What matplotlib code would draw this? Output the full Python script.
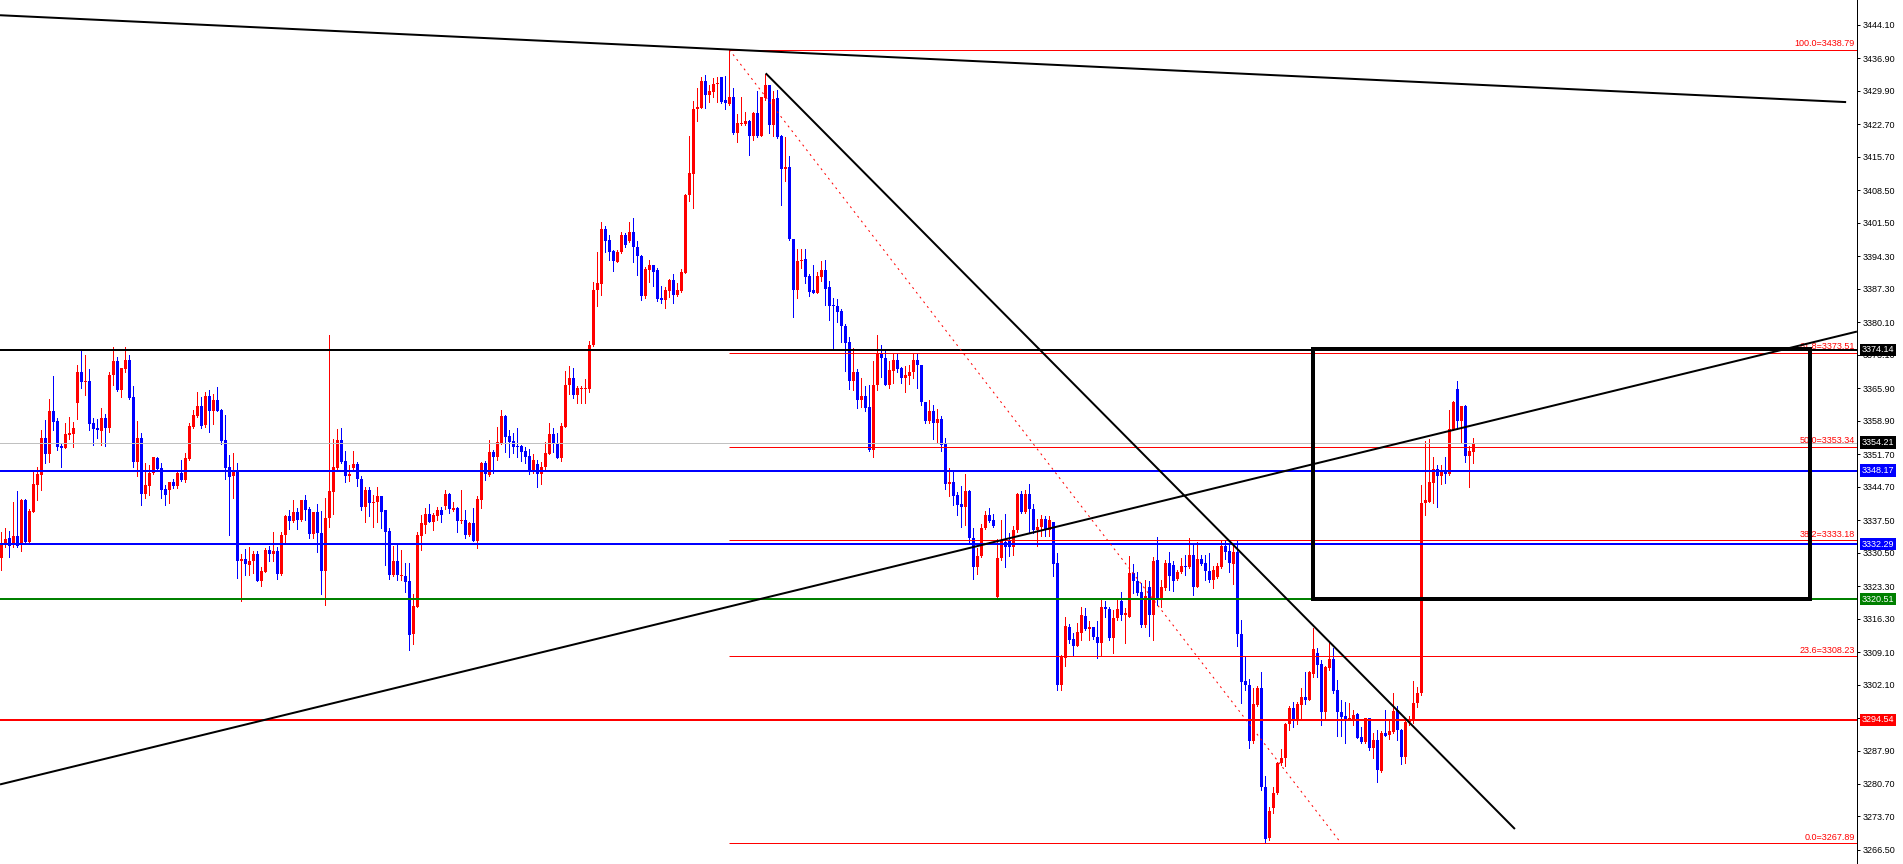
import matplotlib
matplotlib.use("Agg")
import matplotlib.pyplot as plt
import numpy as np

plt.rcParams['font.family'] = ['Liberation Sans', 'DejaVu Sans']

# ---------------- data ----------------
opens = [
3329.3, 3332.4, 3333.6, 3332.2, 3334.1, 3332.5, 3341.9, 3332.9, 3339.3, 3345.1,
3347.3, 3355.2, 3351.8, 3361.0, 3358.9, 3353.5, 3353.1, 3355.8, 3356.1, 3362.8,
3369.4, 3367.3, 3367.5, 3358.4, 3357.4, 3356.6, 3359.5, 3357.4, 3368.8, 3371.8,
3365.6, 3370.1, 3372.0, 3364.0, 3350.1, 3355.2, 3343.1, 3344.9, 3347.6, 3350.9,
3348.7, 3344.1, 3344.0, 3345.7, 3344.9, 3347.6, 3346.2, 3350.7, 3357.6, 3360.0,
3362.1, 3357.9, 3364.2, 3360.9, 3363.4, 3361.2, 3354.8, 3348.9, 3346.9, 3348.1,
3328.6, 3329.2, 3327.9, 3328.6, 3330.2, 3324.5, 3326.4, 3331.1, 3330.2, 3330.9,
3325.9, 3334.2, 3338.3, 3337.3, 3339.3, 3337.6, 3341.9, 3339.9, 3334.5, 3339.3,
3334.7, 3326.6, 3337.9, 3343.6, 3348.7, 3354.8, 3350.2, 3346.9, 3348.7, 3349.6,
3346.4, 3340.4, 3344.0, 3341.1, 3341.3, 3342.6, 3339.6, 3335.2, 3325.6, 3328.7,
3325.4, 3325.5, 3324.3, 3313.0, 3318.9, 3334.0, 3336.5, 3338.8, 3337.2, 3338.3,
3339.7, 3340.6, 3343.2, 3339.7, 3340.1, 3337.4, 3337.6, 3334.3, 3336.8, 3333.0,
3341.9, 3349.8, 3347.2, 3352.1, 3351.2, 3354.1, 3360.0, 3355.6, 3354.6, 3353.5,
3353.5, 3352.3, 3351.3, 3348.2, 3349.6, 3347.5, 3348.9, 3351.8, 3356.0, 3354.2,
3350.8, 3357.6, 3366.5, 3368.0, 3364.5, 3365.8, 3365.8, 3365.8, 3375.2, 3387.1,
3388.4, 3400.2, 3397.8, 3395.5, 3393.0, 3395.3, 3398.9, 3397.5, 3399.6, 3396.3,
3394.4, 3385.8, 3391.4, 3392.5, 3391.4, 3385.4, 3385.0, 3386.9, 3389.1, 3385.9,
3386.9, 3390.8, 3407.4, 3412.0, 3426.0, 3426.2, 3432.1, 3429.1, 3429.6, 3431.4,
3432.8, 3428.0, 3427.1, 3428.7, 3420.9, 3422.8, 3422.8, 3423.5, 3420.2, 3425.1,
3420.3, 3428.3, 3431.1, 3422.6, 3428.3, 3420.1, 3413.1, 3413.6, 3398.0, 3387.1,
3393.2, 3393.7, 3390.1, 3387.0, 3386.5, 3389.9, 3391.4, 3387.6, 3383.8, 3383.6,
3382.6, 3379.4, 3375.8, 3367.5, 3369.5, 3363.4, 3364.2, 3361.9, 3352.6, 3366.6,
3373.4, 3372.5, 3366.6, 3369.7, 3372.0, 3370.2, 3368.0, 3368.6, 3369.4, 3372.0,
3370.9, 3363.0, 3358.9, 3360.9, 3358.5, 3359.2, 3353.9, 3345.2, 3345.7, 3342.9,
3340.9, 3340.4, 3343.8, 3333.6, 3327.5, 3329.7, 3335.8, 3338.6, 3337.5, 3321.0,
3329.3, 3332.9, 3333.1, 3331.8, 3335.3, 3343.2, 3339.3, 3343.2, 3340.0, 3335.4,
3336.1, 3337.8, 3335.4, 3337.0, 3328.2, 3302.0, 3307.8, 3314.6, 3311.9, 3310.4,
3313.3, 3316.9, 3314.1, 3314.4, 3312.4, 3311.1, 3318.7, 3318.4, 3312.2, 3316.4,
3320.0, 3317.0, 3316.7, 3326.2, 3324.3, 3322.1, 3315.0, 3323.2, 3317.0, 3328.9,
3320.3, 3322.8, 3328.2, 3327.9, 3324.9, 3326.4, 3327.7, 3327.4, 3330.0, 3323.2,
3329.2, 3328.2, 3326.6, 3324.6, 3325.3, 3327.4, 3331.9, 3330.9, 3328.1, 3330.7,
3313.0, 3302.9, 3302.0, 3290.0, 3297.7, 3301.3, 3280.1, 3269.0, 3275.5, 3278.7,
3285.2, 3286.3, 3293.6, 3297.1, 3294.6, 3297.7, 3299.4, 3298.8, 3304.4, 3308.8,
3306.5, 3296.3, 3305.6, 3307.6, 3300.9, 3296.2, 3295.4, 3294.6, 3294.5, 3295.8,
3290.9, 3289.8, 3294.9, 3288.4, 3290.2, 3283.4, 3291.6, 3291.3, 3291.8, 3296.6,
3292.3, 3286.5, 3294.1, 3294.6, 3298.2, 3300.2, 3341.1, 3341.5, 3345.6, 3348.5,
3347.1, 3348.3, 3347.5, 3356.9, 3365.7, 3358.9, 3362.1, 3351.4, 3352.1,
]

highs = [
3335.0, 3335.8, 3335.2, 3341.4, 3343.8, 3342.1, 3342.0, 3339.8, 3347.9, 3349.0,
3356.9, 3359.1, 3363.5, 3368.5, 3359.4, 3354.1, 3358.4, 3359.7, 3358.7, 3370.9,
3373.9, 3373.1, 3370.0, 3359.5, 3359.3, 3361.6, 3360.3, 3369.5, 3374.7, 3372.6,
3370.3, 3374.7, 3373.1, 3366.4, 3358.9, 3356.2, 3349.7, 3349.4, 3351.2, 3351.1,
3349.7, 3345.1, 3345.7, 3346.3, 3348.3, 3350.5, 3351.9, 3358.5, 3361.2, 3365.0,
3364.1, 3365.0, 3365.5, 3364.7, 3366.1, 3361.4, 3360.2, 3351.5, 3351.9, 3349.7,
3330.2, 3331.2, 3331.7, 3330.9, 3330.9, 3327.4, 3331.5, 3332.0, 3335.0, 3331.8,
3335.0, 3338.6, 3339.7, 3341.9, 3340.1, 3341.9, 3342.9, 3340.4, 3339.3, 3341.0,
3339.4, 3342.2, 3377.4, 3355.0, 3357.1, 3357.4, 3352.4, 3349.4, 3352.3, 3350.1,
3346.9, 3344.7, 3344.6, 3342.9, 3344.7, 3342.8, 3339.7, 3335.8, 3332.0, 3332.2,
3331.1, 3328.2, 3328.2, 3321.6, 3334.9, 3338.6, 3340.1, 3341.0, 3339.0, 3340.4,
3340.4, 3343.9, 3343.3, 3341.5, 3340.4, 3344.0, 3339.7, 3337.0, 3340.1, 3342.6,
3350.1, 3350.3, 3354.8, 3352.6, 3357.5, 3361.2, 3360.2, 3356.9, 3356.2, 3357.3,
3353.7, 3353.2, 3352.8, 3351.7, 3350.5, 3350.1, 3354.4, 3358.5, 3357.3, 3356.2,
3358.5, 3369.7, 3370.7, 3370.2, 3366.3, 3366.4, 3367.9, 3376.0, 3388.7, 3395.2,
3401.6, 3400.9, 3398.9, 3395.7, 3395.7, 3399.5, 3399.4, 3401.6, 3402.6, 3397.6,
3394.6, 3392.1, 3393.5, 3392.5, 3391.7, 3387.9, 3387.7, 3389.4, 3390.5, 3388.5,
3391.5, 3407.7, 3420.1, 3427.8, 3430.6, 3432.8, 3433.4, 3431.1, 3432.6, 3432.8,
3433.0, 3433.2, 3438.79, 3430.5, 3425.0, 3428.7, 3425.3, 3423.7, 3425.3, 3429.8,
3428.7, 3433.6, 3431.1, 3429.8, 3430.1, 3420.4, 3419.9, 3415.9, 3398.0, 3395.9,
3395.9, 3395.9, 3390.4, 3392.4, 3391.0, 3393.2, 3393.4, 3389.0, 3385.3, 3385.1,
3382.9, 3379.7, 3377.0, 3374.5, 3370.1, 3368.2, 3366.4, 3366.6, 3371.8, 3377.4,
3375.2, 3374.1, 3371.8, 3373.4, 3373.3, 3370.4, 3370.6, 3370.9, 3373.4, 3373.4,
3370.9, 3363.0, 3363.4, 3362.2, 3361.4, 3359.9, 3355.1, 3348.7, 3348.2, 3343.6,
3344.9, 3347.4, 3344.0, 3335.8, 3331.5, 3336.7, 3339.5, 3340.2, 3338.8, 3333.5,
3337.5, 3338.8, 3334.7, 3336.3, 3343.3, 3343.8, 3344.0, 3345.2, 3340.9, 3337.8,
3338.6, 3338.3, 3338.4, 3337.2, 3330.5, 3308.5, 3316.7, 3315.2, 3313.2, 3315.3,
3318.7, 3318.5, 3315.7, 3314.6, 3315.7, 3320.3, 3320.0, 3318.9, 3318.2, 3320.3,
3322.1, 3318.5, 3329.7, 3328.1, 3326.4, 3323.9, 3324.6, 3324.3, 3329.5, 3333.8,
3324.6, 3329.0, 3330.7, 3328.6, 3326.8, 3329.3, 3330.0, 3333.6, 3332.5, 3332.7,
3330.0, 3330.0, 3330.4, 3327.6, 3328.2, 3333.2, 3333.2, 3332.2, 3332.2, 3333.2,
3316.0, 3308.1, 3303.2, 3301.3, 3301.7, 3304.8, 3282.4, 3275.8, 3280.0, 3285.5,
3288.2, 3293.9, 3297.4, 3298.4, 3298.3, 3301.3, 3304.7, 3305.0, 3314.2, 3309.9,
3307.4, 3306.0, 3311.0, 3309.9, 3303.1, 3298.8, 3298.4, 3298.1, 3296.6, 3295.9,
3293.0, 3294.9, 3295.0, 3291.6, 3292.3, 3292.0, 3296.6, 3294.5, 3300.2, 3297.4,
3292.5, 3294.9, 3295.3, 3302.9, 3301.5, 3345.1, 3354.6, 3355.0, 3351.2, 3349.4,
3349.4, 3351.2, 3361.2, 3363.2, 3367.5, 3362.1, 3362.3, 3353.5, 3355.1,
]

lows = [
3326.8, 3331.8, 3329.5, 3331.8, 3331.8, 3330.9, 3332.4, 3332.5, 3339.3, 3341.9,
3343.9, 3349.9, 3350.1, 3356.8, 3352.5, 3349.0, 3353.1, 3354.9, 3353.3, 3359.3,
3366.0, 3364.5, 3356.8, 3353.7, 3355.2, 3353.7, 3353.5, 3356.4, 3366.5, 3365.2,
3364.0, 3369.3, 3363.5, 3348.9, 3346.9, 3340.8, 3342.3, 3342.9, 3347.4, 3348.3,
3342.2, 3340.8, 3341.1, 3344.5, 3344.5, 3346.0, 3345.7, 3350.5, 3357.3, 3359.8,
3357.4, 3357.5, 3356.4, 3358.2, 3360.9, 3353.9, 3346.3, 3334.2, 3342.2, 3325.1,
3320.0, 3325.6, 3325.6, 3326.2, 3324.3, 3323.4, 3326.3, 3328.6, 3328.6, 3324.8,
3325.6, 3332.7, 3335.5, 3337.2, 3335.6, 3337.4, 3337.6, 3333.6, 3333.6, 3330.7,
3321.5, 3319.2, 3336.1, 3338.9, 3348.5, 3349.9, 3345.7, 3345.9, 3348.2, 3344.9,
3339.6, 3337.1, 3338.3, 3336.1, 3337.1, 3335.8, 3327.9, 3324.8, 3325.4, 3324.6,
3324.6, 3322.1, 3309.6, 3310.9, 3318.7, 3331.1, 3334.7, 3337.1, 3335.4, 3337.6,
3337.0, 3339.9, 3339.1, 3339.5, 3335.0, 3336.8, 3333.7, 3334.1, 3333.0, 3331.6,
3340.2, 3346.2, 3347.1, 3347.6, 3350.5, 3353.9, 3352.1, 3351.0, 3351.9, 3351.0,
3350.3, 3349.8, 3347.4, 3347.6, 3344.7, 3345.2, 3348.5, 3351.8, 3352.1, 3350.8,
3350.3, 3357.6, 3364.7, 3363.7, 3362.7, 3362.7, 3362.7, 3365.0, 3374.9, 3383.5,
3386.0, 3395.3, 3393.5, 3391.2, 3393.0, 3395.0, 3396.4, 3397.3, 3393.0, 3390.3,
3384.9, 3385.3, 3388.7, 3387.8, 3384.6, 3384.3, 3383.1, 3385.6, 3384.3, 3385.8,
3386.7, 3390.8, 3406.3, 3404.8, 3423.5, 3426.2, 3426.2, 3427.5, 3428.6, 3427.6,
3427.3, 3426.0, 3426.9, 3420.7, 3419.0, 3422.6, 3422.6, 3416.1, 3419.4, 3419.9,
3420.1, 3428.0, 3420.8, 3420.2, 3419.7, 3405.4, 3410.5, 3397.8, 3381.3, 3385.4,
3391.7, 3388.5, 3385.8, 3386.3, 3386.3, 3388.9, 3383.8, 3380.5, 3374.1, 3380.2,
3375.9, 3369.6, 3365.8, 3365.5, 3361.7, 3361.8, 3361.1, 3352.4, 3351.2, 3365.5,
3368.4, 3366.6, 3366.0, 3367.0, 3369.3, 3367.0, 3365.0, 3366.8, 3368.2, 3366.0,
3362.2, 3358.5, 3358.5, 3355.0, 3354.4, 3352.4, 3344.2, 3342.8, 3340.8, 3338.6,
3336.1, 3336.5, 3332.9, 3324.8, 3325.9, 3329.5, 3335.5, 3337.2, 3336.0, 3320.7,
3329.0, 3327.5, 3329.7, 3329.9, 3335.0, 3339.0, 3339.1, 3334.7, 3334.7, 3332.0,
3334.1, 3334.0, 3334.0, 3325.4, 3301.0, 3301.0, 3306.0, 3311.1, 3308.5, 3310.3,
3311.7, 3313.9, 3311.7, 3311.9, 3307.8, 3308.3, 3316.7, 3311.7, 3308.8, 3316.0,
3315.9, 3311.0, 3316.6, 3321.8, 3321.4, 3314.6, 3314.6, 3312.6, 3311.7, 3319.3,
3318.9, 3322.5, 3322.5, 3322.3, 3324.6, 3326.2, 3325.7, 3327.2, 3321.4, 3323.2,
3327.9, 3324.6, 3324.1, 3322.8, 3325.0, 3327.1, 3329.2, 3326.4, 3323.7, 3310.3,
3298.1, 3301.0, 3288.4, 3289.5, 3297.4, 3279.4, 3267.89, 3268.7, 3274.4, 3278.6,
3284.8, 3284.6, 3292.3, 3293.0, 3293.6, 3294.5, 3297.9, 3298.7, 3303.8, 3303.8,
3293.4, 3294.9, 3305.3, 3300.2, 3291.1, 3291.0, 3289.5, 3294.5, 3293.4, 3290.5,
3289.5, 3289.5, 3288.0, 3286.2, 3281.2, 3283.2, 3291.0, 3290.4, 3291.6, 3290.2,
3284.9, 3285.2, 3293.5, 3293.9, 3297.2, 3299.9, 3338.5, 3341.4, 3341.1, 3340.4,
3345.3, 3345.4, 3347.2, 3356.8, 3357.1, 3354.4, 3350.1, 3344.7, 3349.9,
]

closes = [
3332.5, 3333.4, 3331.9, 3334.1, 3331.9, 3341.9, 3332.7, 3339.5, 3345.3, 3347.5,
3355.2, 3351.8, 3361.0, 3358.7, 3353.3, 3353.1, 3356.1, 3356.3, 3357.4, 3369.4,
3367.3, 3367.5, 3358.3, 3357.1, 3356.8, 3359.5, 3357.4, 3368.8, 3371.8, 3365.5,
3370.3, 3372.0, 3363.7, 3350.1, 3355.2, 3343.1, 3345.1, 3347.7, 3351.0, 3348.5,
3344.0, 3343.0, 3345.7, 3344.9, 3347.6, 3346.2, 3350.8, 3357.8, 3360.2, 3362.1,
3357.8, 3364.2, 3360.9, 3363.4, 3361.1, 3354.6, 3348.8, 3346.7, 3347.9, 3328.6,
3329.2, 3328.0, 3328.7, 3330.2, 3324.5, 3326.6, 3331.1, 3330.2, 3330.9, 3326.0,
3334.3, 3338.3, 3337.3, 3339.3, 3337.6, 3341.9, 3339.7, 3334.5, 3339.3, 3334.7,
3326.6, 3337.9, 3343.8, 3348.9, 3354.8, 3350.1, 3346.9, 3347.5, 3349.6, 3346.3,
3340.4, 3344.0, 3341.1, 3341.4, 3342.6, 3339.3, 3335.0, 3325.6, 3328.7, 3325.6,
3325.6, 3324.1, 3312.8, 3319.0, 3334.2, 3336.8, 3338.8, 3337.2, 3338.5, 3339.7,
3338.6, 3343.2, 3339.9, 3340.1, 3337.4, 3337.6, 3334.3, 3336.8, 3333.0, 3342.1,
3349.8, 3347.5, 3352.1, 3351.2, 3354.3, 3360.0, 3355.3, 3354.3, 3353.3, 3353.3,
3352.1, 3351.2, 3348.2, 3350.5, 3347.5, 3349.0, 3351.9, 3356.0, 3354.1, 3350.8,
3357.8, 3366.6, 3368.0, 3364.5, 3365.9, 3365.9, 3365.9, 3375.2, 3387.1, 3388.5,
3400.2, 3397.7, 3395.3, 3393.2, 3395.3, 3398.9, 3396.8, 3399.6, 3396.2, 3394.3,
3385.8, 3391.6, 3392.5, 3391.0, 3385.2, 3385.0, 3387.1, 3389.1, 3385.9, 3387.1,
3391.0, 3407.5, 3412.2, 3426.0, 3426.5, 3432.1, 3429.1, 3429.8, 3431.4, 3431.7,
3427.6, 3427.3, 3428.7, 3420.9, 3423.1, 3423.1, 3423.5, 3420.2, 3425.1, 3420.3,
3428.6, 3431.2, 3422.6, 3428.1, 3419.9, 3413.1, 3413.6, 3398.0, 3387.1, 3393.3,
3393.5, 3389.9, 3386.7, 3386.5, 3390.1, 3391.4, 3387.2, 3383.6, 3383.5, 3382.3,
3379.2, 3375.6, 3367.5, 3369.5, 3363.4, 3364.2, 3361.6, 3352.5, 3366.6, 3373.4,
3372.3, 3366.6, 3369.8, 3372.0, 3370.1, 3368.2, 3368.8, 3369.5, 3372.0, 3370.8,
3362.9, 3358.9, 3360.9, 3358.5, 3359.2, 3353.7, 3345.2, 3345.7, 3342.8, 3340.8,
3340.4, 3343.8, 3333.6, 3327.5, 3329.7, 3335.9, 3338.6, 3337.4, 3336.3, 3329.3,
3333.1, 3331.8, 3331.8, 3335.4, 3343.2, 3339.2, 3343.2, 3339.8, 3335.4, 3336.1,
3337.8, 3335.4, 3337.5, 3328.1, 3302.0, 3308.1, 3314.8, 3311.7, 3310.4, 3313.4,
3317.1, 3314.1, 3314.6, 3312.4, 3311.1, 3318.9, 3318.4, 3312.2, 3316.4, 3318.4,
3317.0, 3317.5, 3326.1, 3324.3, 3321.8, 3315.0, 3321.1, 3317.0, 3328.7, 3320.3,
3323.2, 3328.2, 3325.4, 3324.3, 3326.4, 3327.7, 3327.4, 3330.0, 3323.2, 3329.2,
3328.1, 3326.6, 3324.6, 3326.8, 3327.6, 3331.9, 3330.7, 3328.2, 3330.7, 3312.9,
3302.7, 3301.9, 3290.0, 3297.9, 3301.3, 3280.0, 3268.8, 3274.8, 3278.7, 3285.2,
3286.3, 3293.6, 3297.0, 3294.6, 3297.9, 3299.4, 3298.8, 3304.7, 3309.8, 3306.3,
3296.3, 3305.8, 3307.6, 3300.7, 3296.1, 3295.2, 3294.6, 3294.8, 3295.6, 3290.7,
3289.7, 3294.9, 3288.4, 3290.2, 3283.7, 3291.6, 3291.1, 3292.0, 3296.4, 3292.3,
3286.5, 3294.1, 3294.6, 3298.2, 3300.2, 3341.1, 3341.9, 3345.8, 3348.5, 3347.1,
3348.1, 3347.4, 3357.1, 3363.0, 3358.9, 3362.1, 3351.4, 3352.3, 3354.21,
]

# horizontal price lines and their right-axis labels
level_prices = [3374.14, 3354.21, 3348.17, 3332.29, 3320.51, 3294.54]
level_colors = ['#000000', '#C0C0C0', '#0000FF', '#0000FF', '#008000', '#FF0000']
level_widths = [2, 1, 2, 2, 2, 2]          # pixels
label_box_colors = ['#000000', '#000000', '#0000FF', '#0000FF', '#008000', '#FF0000']

# Fibonacci retracement
fib_ratios = ['100.0', '61.8', '50.0', '38.2', '23.6', '0.0']
fib_prices = [3438.79, 3373.51, 3353.34, 3333.18, 3308.23, 3267.89]
fib_anchor_bars = [182, 335]
fib_anchor_prices = [3438.79, 3267.89]

# trend lines: (bar0, price0, bar1, price1)
trend_long = [-0.33, 3446.2, 461.2, 3427.5]
trend_down = [191.1, 3433.7, 378.4, 3271.0]
trend_up = [-0.33, 3280.6, 463.9, 3378.1]

# rectangle: bars and prices
rect_bars = [327.9, 452.2]
rect_prices = [3320.5, 3374.3]

# right axis tick labels
tick_labels = ['3444.10', '3436.90', '3429.90', '3422.70', '3415.70', '3408.50',
               '3401.50', '3394.30', '3387.30', '3380.10', '3373.10', '3365.90',
               '3358.90', '3351.70', '3344.70', '3337.50', '3330.50', '3323.30',
               '3316.30', '3309.10', '3302.10', '3294.90', '3287.90', '3280.70',
               '3273.70', '3266.50']

# ---------------- drawing ----------------
n = min(len(opens), len(highs), len(lows), len(closes))
O = np.array(opens[:n]); H = np.array(highs[:n]); L = np.array(lows[:n]); C = np.array(closes[:n])
x = np.arange(n)

W, Hpx = 1903, 864
DPI = 100
PX = 72.0 / DPI  # points per pixel
fig = plt.figure(figsize=(W / DPI, Hpx / DPI), dpi=DPI, facecolor='white')
plot_w = 1857
ax = fig.add_axes([0, 0, plot_w / W, 1])
ax.set_facecolor('white')

ax.set_xlim(-0.333, 463.92)
ax.set_ylim(3263.47, 3449.48)

up = C >= O
colors = np.where(up, '#FF0000', '#0000FF')

ax.vlines(x, L, H, colors=colors, linewidth=1 * PX, zorder=2, antialiased=False)
body_bottom = np.minimum(O, C)
body_h = np.maximum(np.abs(C - O), 0.22)
ax.bar(x, body_h, bottom=body_bottom, width=0.75, color=colors, linewidth=0,
       zorder=2.1, antialiased=False)

# horizontal levels
for p, c, w in zip(level_prices, level_colors, level_widths):
    ax.axhline(p, color=c, linewidth=w * PX, zorder=3)

# fib levels
x_right = ax.get_xlim()[1]
for r, p in zip(fib_ratios, fib_prices):
    ax.plot([fib_anchor_bars[0], x_right], [p, p], color='#FF0000',
            linewidth=1 * PX, zorder=3, solid_capstyle='butt')
    ax.annotate(f'{r}={p:.2f}', xy=(1, p), xycoords=('axes fraction', 'data'),
                xytext=(-2 * PX, 1.5 * PX), textcoords='offset points',
                ha='right', va='bottom', color='#FF0000', fontsize=6.5, zorder=3.5)
ax.plot(fib_anchor_bars, fib_anchor_prices, color='#FF0000', linewidth=1 * PX,
        linestyle=(0, (2, 4)), zorder=3.6)

# trend lines
for t in (trend_long, trend_down, trend_up):
    ax.plot([t[0], t[2]], [t[1], t[3]], color='black', linewidth=2 * PX, zorder=4,
            solid_capstyle='butt')

# rectangle
rx = [rect_bars[0], rect_bars[1], rect_bars[1], rect_bars[0], rect_bars[0]]
ry = [rect_prices[1], rect_prices[1], rect_prices[0], rect_prices[0], rect_prices[1]]
ax.plot(rx, ry, color='black', linewidth=4 * PX, zorder=4.5, solid_joinstyle='miter')

# axes styling
for s in ['left', 'top', 'bottom']:
    ax.spines[s].set_visible(False)
ax.spines['right'].set_color('black')
ax.spines['right'].set_linewidth(1 * PX)
ax.set_xticks([])
ax.yaxis.tick_right()
ax.set_yticks([float(t) for t in tick_labels])
ax.set_yticklabels(tick_labels)
ax.tick_params(axis='y', direction='out', length=3 * PX, width=1 * PX,
               pad=3 * PX, labelsize=6.5, colors='black')

# price label boxes on the axis
for p, c in zip(level_prices, label_box_colors):
    ax.annotate(f'{p:.2f}', xy=(1, p), xycoords=('axes fraction', 'data'),
                xytext=(4.5 * PX, 0), textcoords='offset points',
                ha='left', va='center', color='white', fontsize=6.5,
                bbox=dict(boxstyle='square,pad=0.18', fc=c, ec='none'),
                annotation_clip=False, zorder=10)

fig.savefig('out.png', dpi=DPI, facecolor='white')
